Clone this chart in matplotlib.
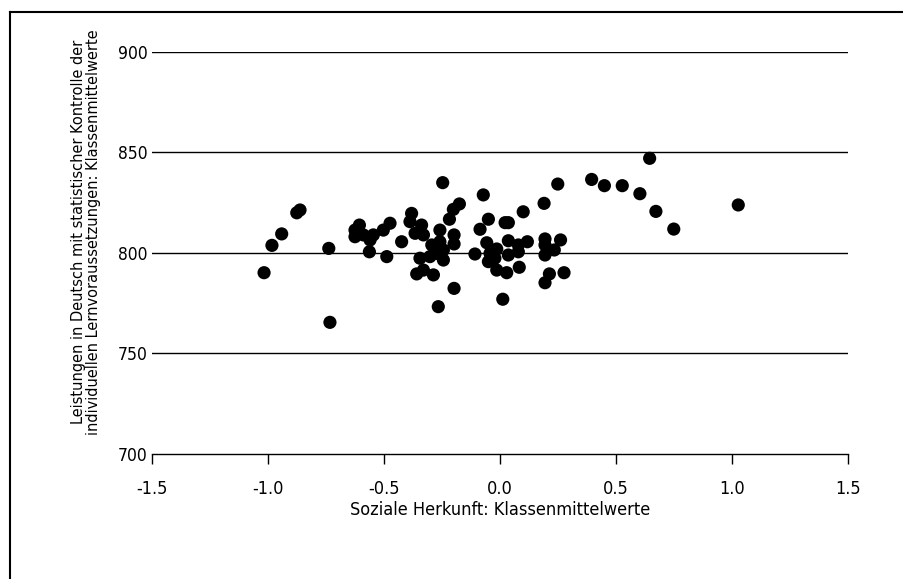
import numpy as np
import matplotlib
matplotlib.use('Agg')
import matplotlib.pyplot as plt
from matplotlib.lines import Line2D

# Soziale Herkunft (Klassenmittelwerte)
herkunft = [
    -1.017, -0.983, -0.941, -0.876, -0.862, -0.738, -0.733,
    -0.625, -0.606, -0.589, -0.625, -0.546, -0.560, -0.563,
    -0.503, -0.474, -0.488, -0.424, -0.381, -0.388, -0.366,
    -0.338, -0.330, -0.345, -0.359, -0.330, -0.287, -0.294,
    -0.302, -0.259, -0.259, -0.273, -0.244, -0.244, -0.266,
    -0.247, -0.175, -0.201, -0.218, -0.198, -0.198, -0.198,
    -0.072, -0.050, -0.086, 0.022, 0.036, 0.100, -0.108,
    -0.057, -0.043, -0.050, -0.014, -0.022, -0.014, 0.036,
    0.036, 0.029, 0.079, 0.079, 0.083, 0.118, 0.012,
    0.249, 0.190, 0.194, 0.194, 0.261, 0.234, 0.194,
    0.213, 0.276, 0.194, 0.395, 0.450, 0.527, 0.603,
    0.645, 0.672, 0.749, 1.027,
]
# Leistungen in Deutsch (Klassenmittelwerte, kontrolliert)
leistung = [
    790.2, 803.8, 809.5, 820.0, 821.4, 802.3, 765.5,
    811.4, 813.9, 809.0, 808.1, 809.0, 806.5, 800.6,
    811.4, 814.8, 798.2, 805.6, 819.7, 815.6, 809.8,
    813.9, 809.0, 797.4, 789.6, 791.5, 789.1, 804.0,
    798.2, 811.4, 805.6, 799.8, 801.5, 796.5, 773.3,
    835.0, 824.4, 821.7, 816.8, 809.0, 804.5, 782.4,
    828.9, 816.8, 811.8, 815.1, 815.1, 820.5, 799.5,
    805.1, 799.8, 795.7, 802.0, 797.4, 791.5, 806.1,
    799.0, 790.2, 804.0, 800.6, 792.9, 805.6, 777.0,
    834.3, 824.7, 807.0, 804.0, 806.5, 801.5, 799.0,
    789.6, 790.2, 785.2, 836.6, 833.5, 833.5, 829.5,
    847.1, 820.7, 811.9, 823.9,
]

x_ticks = [-1.5, -1.0, -0.5, 0.0, 0.5, 1.0, 1.5]
y_ticks = [700, 750, 800, 850, 900]

plt.rcParams['font.family'] = ['DejaVu Sans']
cond = dict(family='DejaVu Sans', stretch='condensed')

fig = plt.figure(figsize=(9.04, 5.79), dpi=100)
ax = fig.add_axes([152 / 904, 1 - 454 / 579, 696 / 904, 402 / 579])

for v in y_ticks[1:]:
    ax.axhline(v, color='black', lw=1.0, zorder=1)

ax.scatter(herkunft, leistung, s=90, color='black', edgecolors='none', zorder=3)

ax.set_xlim(-1.5, 1.5)
ax.set_ylim(700, 900)
ax.set_xticks(x_ticks)
ax.set_xticklabels([f'{t:.1f}' for t in x_ticks], fontsize=13, **cond)
ax.set_yticks(y_ticks)
ax.set_yticklabels([str(t) for t in y_ticks], fontsize=12.5, **cond)

for s in ['top', 'right', 'left']:
    ax.spines[s].set_visible(False)
ax.spines['bottom'].set_linewidth(1.0)
ax.tick_params(axis='x', direction='out', length=7, width=1.0, pad=12)
ax.tick_params(axis='y', length=0, pad=3)

ax.set_xlabel('Soziale Herkunft: Klassenmittelwerte', fontsize=13, labelpad=2, **cond)
ax.set_ylabel('Leistungen in Deutsch mit statistischer Kontrolle der\n'
              'individuellen Lernvoraussetzungen: Klassenmittelwerte',
              fontsize=11.7, linespacing=1.0, **cond)
ax.yaxis.set_label_coords(-51 / 696, 0.552)

# Rahmen oben und links
fig.add_artist(Line2D([9.5 / 904, 1.0], [1 - 11.5 / 579] * 2, color='black', lw=1.5,
                      transform=fig.transFigure))
fig.add_artist(Line2D([9.5 / 904] * 2, [0.0, 1 - 11.5 / 579], color='black', lw=1.5,
                      transform=fig.transFigure))

fig.savefig('out.png', dpi=100)
